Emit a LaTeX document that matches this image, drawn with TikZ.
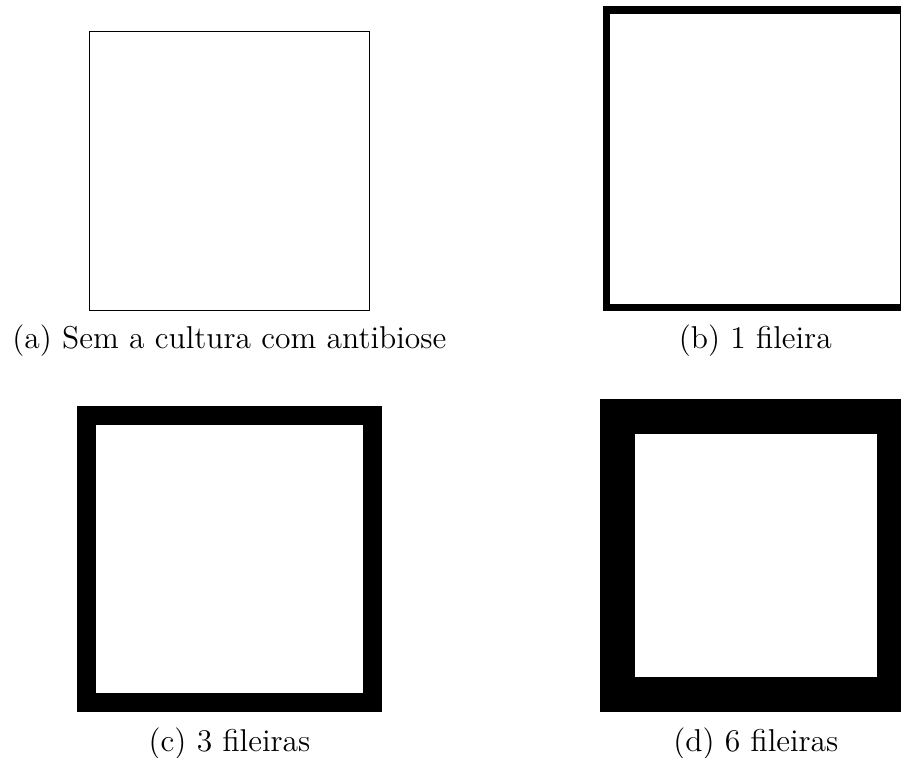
\documentclass[12pt,tikz,border=0pt]{standalone}
\usetikzlibrary{positioning}

\begin{document}
\begin{tikzpicture}[x=0.38pt, y=-0.38pt,
    parcela/.style={draw, rectangle, inner sep=0pt, outer sep=0pt},
    legenda/.style={anchor=base, inner sep=0pt}]
    \useasboundingbox (0,0) rectangle (901,758);
    \clip (0,0) rectangle (901,758);

    \node[parcela, line width=0.4pt, minimum width=106.4pt, minimum height=106.2pt] (pa) at (229.3,171) {};
    \node[parcela, line width=2.85pt, minimum width=113.1pt, minimum height=113.2pt] (pb) at (755.3,158.75) {};
    \node[parcela, line width=7.22pt, minimum width=108.7pt, minimum height=109.1pt] (pc) at (229.5,558.7) {};
    \node[parcela, line width=13.3pt, minimum width=105.1pt, minimum height=105.7pt] (pd) at (755.85,555.3) {};

    \node[legenda] (la) at (pa |- 0,348) {(a) Sem a cultura com antibiose};
    \node[legenda] (lb) at (pb |- 0,348) {(b) 1 fileira};
    \node[legenda] (lc) at (pc |- 0,751) {(c) 3 fileiras};
    \node[legenda] (ld) at (pd |- 0,751) {(d) 6 fileiras};
\end{tikzpicture}
\end{document}
